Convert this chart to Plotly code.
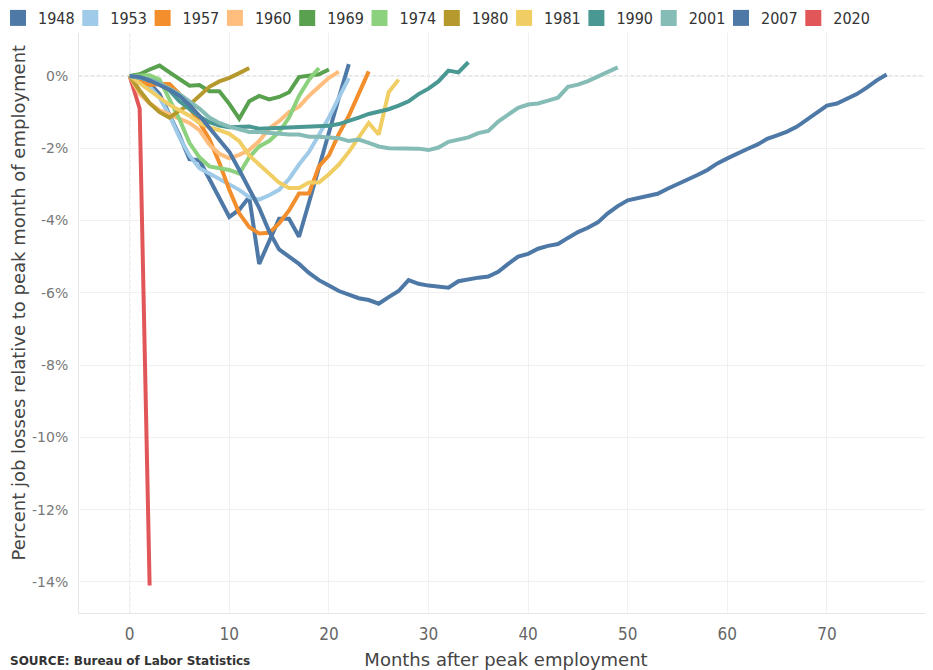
import plotly.graph_objects as go

# ---------------- data ----------------
years = ["1948", "1953", "1957", "1960", "1969", "1974", "1980", "1981", "1990", "2001", "2007", "2020"]
colors = ["#4e79a7", "#a0cbe8", "#f28e2b", "#ffbe7d", "#59a14f", "#8cd17d",
          "#b6992d", "#f1ce63", "#499894", "#86bcb6", "#4e79a7", "#e15759"]

s1948 = [0, -0.1, -0.2, -0.5, -1.05, -1.65, -2.3, -2.33, -2.85, -3.35, -3.9, -3.7, -3.35,
         -5.2, -4.55, -3.95, -3.95, -4.45, -3.5, -2.5, -1.5, -0.6, 0.33]
s1953 = [0, -0.1, -0.3, -0.6, -1.1, -1.7, -2.2, -2.55, -2.7, -2.85, -3.0, -3.15, -3.35,
         -3.42, -3.3, -3.15, -2.85, -2.45, -2.1, -1.65, -1.15, -0.6, -0.06]
s1957 = [0, -0.15, -0.25, -0.22, -0.22, -0.5, -0.88, -1.28, -1.75, -2.4, -3.15, -3.8, -4.18,
         -4.36, -4.34, -4.08, -3.72, -3.25, -3.25, -2.5, -2.2, -1.6, -1.1, -0.5, 0.13]
s1960 = [0, -0.5, -0.75, -0.95, -1.07, -1.18, -1.3, -1.5, -1.9, -2.15, -2.28, -2.18, -2.05,
         -1.8, -1.45, -1.25, -1.0, -0.85, -0.55, -0.3, -0.05, 0.12]
s1969 = [0, 0.05, 0.18, 0.29, 0.1, -0.1, -0.27, -0.25, -0.42, -0.42, -0.77, -1.18, -0.7,
         -0.55, -0.65, -0.58, -0.45, -0.03, 0.0, 0.05, 0.18]
s1974 = [0, 0.0, 0.02, -0.1, -0.65, -1.2, -1.85, -2.25, -2.5, -2.55, -2.6, -2.7, -2.25,
         -1.95, -1.8, -1.55, -1.15, -0.55, -0.1, 0.22]
s1980 = [0, -0.4, -0.75, -1.0, -1.15, -0.95, -0.8, -0.55, -0.3, -0.15, -0.05, 0.08, 0.22]
s1981 = [0, -0.2, -0.4, -0.62, -0.8, -0.95, -1.1, -1.3, -1.42, -1.5, -1.6, -1.8, -2.2,
         -2.45, -2.7, -2.95, -3.1, -3.1, -2.95, -2.95, -2.72, -2.45, -2.1, -1.72, -1.3,
         -1.62, -0.45, -0.1]
s1990 = [0, -0.05, -0.1, -0.2, -0.4, -0.7, -0.9, -1.12, -1.28, -1.37, -1.42, -1.42, -1.4,
         -1.46, -1.45, -1.43, -1.42, -1.41, -1.4, -1.38, -1.38, -1.33, -1.25, -1.15, -1.05,
         -0.98, -0.92, -0.82, -0.7, -0.5, -0.35, -0.15, 0.15, 0.1, 0.38]
s2001 = [0, -0.05, -0.1, -0.2, -0.35, -0.5, -0.7, -0.9, -1.15, -1.3, -1.4, -1.48, -1.55,
         -1.55, -1.58, -1.6, -1.62, -1.62, -1.68, -1.68, -1.7, -1.72, -1.8, -1.76, -1.85,
         -1.95, -2.0, -2.0, -2.0, -2.01, -2.05, -1.98, -1.82, -1.77, -1.7, -1.58, -1.52,
         -1.26, -1.07, -0.88, -0.79, -0.76, -0.68, -0.6, -0.3, -0.24, -0.14, -0.02, 0.12, 0.24]
s2007 = [0, -0.03, -0.12, -0.25, -0.38, -0.55, -0.8, -1.1, -1.42, -1.75, -2.1, -2.6, -3.15,
         -3.65, -4.3, -4.8, -5.0, -5.2, -5.45, -5.65, -5.8, -5.95, -6.05, -6.15, -6.2, -6.3,
         -6.12, -5.95, -5.65, -5.75, -5.8, -5.83, -5.86, -5.68, -5.62, -5.58, -5.55, -5.42,
         -5.2, -5.0, -4.92, -4.78, -4.7, -4.65, -4.48, -4.32, -4.2, -4.05, -3.8, -3.6, -3.44,
         -3.38, -3.32, -3.26, -3.12, -3.0, -2.85, -2.74, -2.6, -2.42, -2.28, -2.14, -2.02,
         -1.9, -1.74, -1.64, -1.54, -1.4, -1.2, -1.0, -0.82, -0.76, -0.62, -0.5, -0.32,
         -0.12, 0.04]
s2020 = [0, -0.9, -14.1]

series = [s1948, s1953, s1957, s1960, s1969, s1974, s1980, s1981, s1990, s2001, s2007, s2020]

x_ticks = [0, 10, 20, 30, 40, 50, 60, 70, 80]
x_labels = ["0", "10", "20", "30", "40", "50", "60", "70", "80"]
y_ticks = [0, -2, -4, -6, -8, -10, -12, -14]
y_labels = ["0%", "-2%", "-4%", "-6%", "-8%", "-10%", "-12%", "-14%"]

# ---------------- figure ----------------
# The page body has an 8px margin, so the figure is drawn 8px in from the
# window's top-left; sizes below compensate for that.
OFF = 8
W, H = 933 - OFF, 670 - OFF
ML, MR, MT = 79 - OFF, 0, 33 - OFF
MB = H - (613 - OFF)
PW, PH = W - ML - MR, H - MT - MB


def px_x(sx):  # screen x -> paper x
    return (sx - OFF - ML) / PW


def px_y(sy):  # screen y -> paper y
    return (H - MB - (sy - OFF)) / PH


fig = go.Figure()

# draw 2020 first so it sits underneath
order = [11] + list(range(11))
for i in order:
    vals = series[i]
    fig.add_trace(go.Scatter(
        x=list(range(len(vals))), y=vals, mode="lines",
        line=dict(color=colors[i], width=4),
        name=years[i], showlegend=False,
        hovertemplate=years[i] + ": month %{x}, %{y:.2f}%<extra></extra>"))

NARROW = "DejaVu Sans Condensed, Liberation Sans Narrow, sans-serif"
WIDE = "DejaVu Sans, Verdana, sans-serif"

# legend entries (square swatches), one small legend per entry so that
# the entries sit at an even 72px pitch without clipping their labels
legend_layouts = {}
for i, yr in enumerate(years):
    key = "legend" if i == 0 else f"legend{i + 1}"
    fig.add_trace(go.Scatter(
        x=[None], y=[None], mode="markers",
        marker=dict(symbol="square", size=16, color=colors[i]),
        name=yr, showlegend=True, legend=key))
    legend_layouts[key] = dict(
        orientation="h", xref="paper", yref="paper",
        x=px_x(-2 + i * 72.3), y=px_y(18), xanchor="left", yanchor="middle",
        font=dict(family=NARROW, size=16, color="#333"),
        bgcolor="rgba(0,0,0,0)", borderwidth=0,
    )

fig.update_layout(
    width=W, height=H,
    margin=dict(l=ML, r=MR, t=MT, b=MB, autoexpand=False),
    plot_bgcolor="white", paper_bgcolor="white",
    font=dict(family=WIDE, color="#555"),
    showlegend=True,
    xaxis=dict(
        range=[-5.09, 80.65], tickmode="array", tickvals=x_ticks, ticktext=x_labels,
        showgrid=True, gridcolor="#f0f0f0", gridwidth=1, zeroline=False,
        showline=True, linecolor="#e6e6e6", linewidth=1,
        ticks="outside", ticklen=6, tickcolor="rgba(0,0,0,0)",
        tickfont=dict(family=NARROW, size=17, color="#666"),
        title=dict(text="Months after peak employment",
                   font=dict(family=WIDE, size=18, color="#444"), standoff=10),
    ),
    yaxis=dict(
        range=[-14.86, 1.19], tickmode="array", tickvals=y_ticks, ticktext=y_labels,
        showgrid=True, gridcolor="#f0f0f0", gridwidth=1, zeroline=False,
        showline=True, linecolor="#e6e6e6", linewidth=1,
        ticks="outside", ticklen=7, tickcolor="rgba(0,0,0,0)",
        tickfont=dict(family=WIDE, size=14, color="#777"),
    ),
    shapes=[
        dict(type="line", xref="x", yref="paper", x0=0, x1=0, y0=0, y1=1,
             line=dict(color="#c4c4c4", width=1, dash="dot"), layer="below"),
        dict(type="line", xref="paper", yref="y", x0=0, x1=1, y0=0, y1=0,
             line=dict(color="#c4c4c4", width=1, dash="dot"), layer="below"),
    ],
    annotations=[
        dict(text="Percent job losses relative to peak month of employment",
             xref="paper", yref="paper", x=px_x(5), y=px_y(303),
             textangle=-90, showarrow=False, xanchor="left", yanchor="middle",
             font=dict(family=WIDE, size=18, color="#444")),
        dict(text="<b>SOURCE: Bureau of Labor Statistics</b>",
             xref="paper", yref="paper", x=px_x(8), y=px_y(652),
             showarrow=False, xanchor="left", yanchor="top",
             font=dict(family=WIDE, size=12, color="#333")),
    ],
    **legend_layouts,
)

fig.write_html("out.html")
